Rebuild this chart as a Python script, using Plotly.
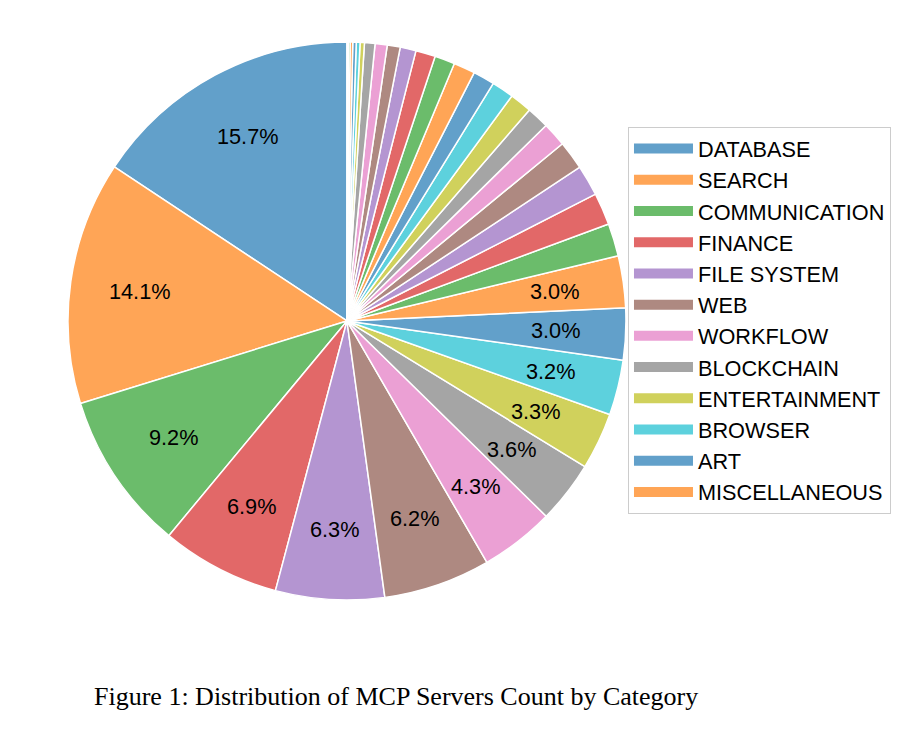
import math
import plotly.graph_objects as go

# labelled categories (shown in legend, values in %)
categories = ["DATABASE", "SEARCH", "COMMUNICATION", "FINANCE", "FILE SYSTEM", "WEB",
              "WORKFLOW", "BLOCKCHAIN", "ENTERTAINMENT", "BROWSER", "ART", "MISCELLANEOUS"]
shares = [15.7, 14.1, 9.2, 6.9, 6.3, 6.2, 4.3, 3.6, 3.3, 3.2, 3.0, 3.0]

# remaining small categories (not in legend, no label)
small_shares = [1.9, 1.86, 1.78, 1.67, 1.4, 1.3, 1.28, 1.28, 1.25, 1.25, 1.17, 1.14,
                0.92, 0.75, 0.7, 0.61, 0.25, 0.22, 0.2, 0.15, 0.1, 0.08]
small_names = [f"CATEGORY {i + 13}" for i in range(len(small_shares))]

# tab10 at alpha 0.7 on white
palette = ["#62a0ca", "#ffa556", "#6bbc6b", "#e26868", "#b495d1",
           "#ae8981", "#eba0d4", "#a5a5a5", "#d0d15c", "#5dd1dd"]

W, H = 920, 731
labels = categories + small_names
values = shares + small_shares
total = sum(values)
colors = [palette[i % 10] for i in range(len(values))]

dom_x = [0.0652, 0.6717]
dom_y = [0.1902, 0.9535]

fig = go.Figure()

fig.add_trace(go.Pie(
    labels=labels,
    values=values,
    textinfo="none",
    marker=dict(colors=colors, line=dict(color="white", width=1.5)),
    sort=False,
    direction="counterclockwise",
    # first slice starts at 12 o'clock and runs counterclockwise
    rotation=-values[0] / total * 360,
    showlegend=False,
    domain=dict(x=dom_x, y=dom_y),
    hovertemplate="%{label}: %{value:.1f}%<extra></extra>",
))

# percentage labels at 0.75 of the radius (matplotlib autopct style, >= 3% only)
cx = sum(dom_x) / 2
cy = sum(dom_y) / 2
r_px = min((dom_x[1] - dom_x[0]) * W, (dom_y[1] - dom_y[0]) * H) / 2
annotations = []
cum = 0.0
for v in values:
    mid = (cum + v / 2) / total * 2 * math.pi
    cum += v
    if v < 3:
        continue
    theta = math.pi / 2 + mid
    annotations.append(dict(
        text=f"{v:.1f}%",
        x=cx + 0.75 * r_px * math.cos(theta) / W,
        y=cy + 0.75 * r_px * math.sin(theta) / H,
        xref="paper", yref="paper", showarrow=False,
        xanchor="center", yanchor="middle",
        font=dict(family="Liberation Sans", size=21.7, color="black"),
    ))

# legend entries for the labelled categories
for name, col in zip(categories, colors):
    fig.add_trace(go.Scatter(
        x=[None], y=[None], mode="lines", name=name,
        line=dict(color=col, width=14),
    ))

annotations.append(dict(
    text="Figure 1: Distribution of MCP Servers Count by Category",
    x=0.0913, y=0.0575, xref="paper", yref="paper",
    xanchor="left", yanchor="middle", showarrow=False,
    font=dict(family="Liberation Serif", size=26, color="black"),
))

fig.update_layout(
    width=W, height=H,
    margin=dict(l=0, r=0, t=0, b=0),
    paper_bgcolor="white",
    plot_bgcolor="white",
    xaxis=dict(visible=False),
    yaxis=dict(visible=False),
    legend=dict(
        x=0.6739, y=0.8372, xanchor="left", yanchor="top",
        font=dict(family="Liberation Sans", size=21.7, color="black"),
        bordercolor="#cccccc", borderwidth=1,
        itemwidth=59,
        bgcolor="white",
    ),
    annotations=annotations,
)

fig.write_html("out.html")
